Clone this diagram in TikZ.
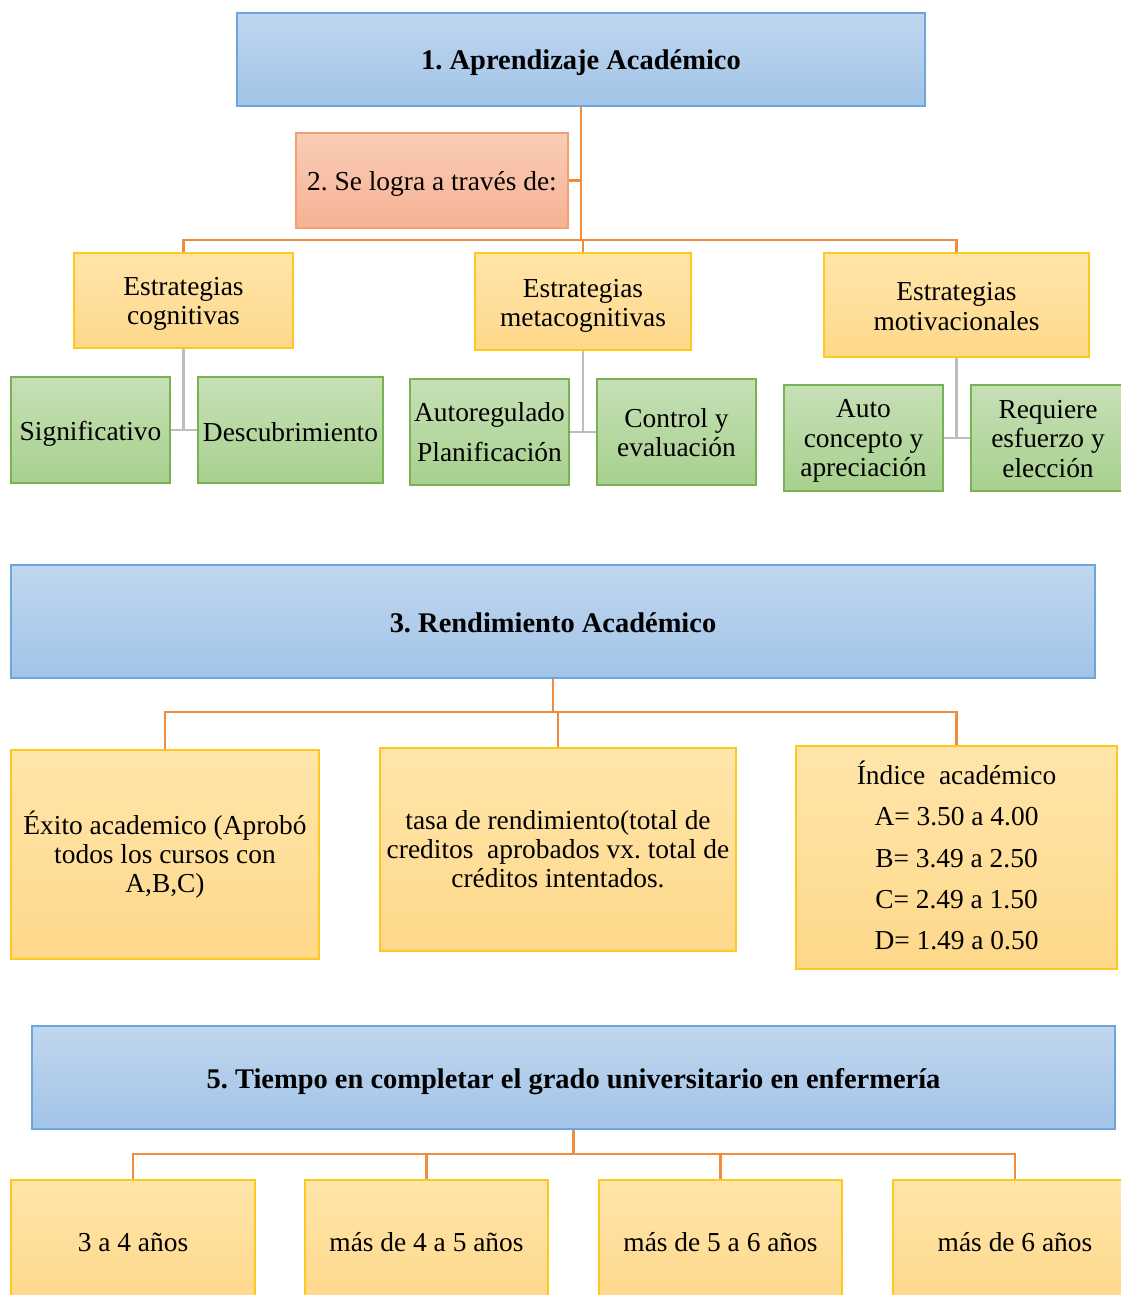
\documentclass[tikz,border=0pt]{standalone}
\usepackage{fontspec}
\setmainfont{Liberation Serif}
\frenchspacing
\begin{document}
\begin{tikzpicture}[x=0.02cm,y=-0.02cm,
  base/.style={draw, line width=0.9pt, inner sep=0pt},
  txt/.style={inner sep=0pt, align=center, font=\fontsize{15.6}{16.6}\selectfont},
  btxt/.style={inner sep=0pt, align=center, font=\fontsize{16.2}{17}\selectfont\bfseries},
  bluebox/.style={base, draw={rgb,255:red,110;green,165;blue,220}, top color={rgb,255:red,192;green,214;blue,238}, bottom color={rgb,255:red,162;green,196;blue,232}},
  salmonbox/.style={base, draw={rgb,255:red,244;green,160;blue,110}, top color={rgb,255:red,249;green,205;blue,182}, bottom color={rgb,255:red,247;green,178;blue,148}},
  yellowbox/.style={base, draw={rgb,255:red,255;green,200;blue,30}, top color={rgb,255:red,255;green,229;blue,170}, bottom color={rgb,255:red,254;green,216;blue,138}},
  greenbox/.style={base, draw={rgb,255:red,120;green,178;blue,82}, top color={rgb,255:red,198;green,224;blue,182}, bottom color={rgb,255:red,168;green,208;blue,142}},
  oline/.style={draw={rgb,255:red,240;green,140;blue,60}, line width=1.6pt},
  gline/.style={draw={rgb,255:red,190;green,190;blue,190}, line width=1.6pt}
]
\newcommand\mybox[9]{%
  \node[#1, minimum width={(#6-#4)*0.02cm}, minimum height={(#7-#5)*0.02cm}] (#3) at ({(#4+#6)/2},{(#5+#7)/2}) {};
  \node[#2] (#3-t) at ({(#4+#6)/2},{(#5+#7)/2+#8}) {#9};}
\useasboundingbox (0,0) rectangle (1121,1295);

% section 1
\mybox{bluebox}{btxt}{b1}{237}{13}{925}{106}{3}{1. Aprendizaje Académico}
\mybox{salmonbox}{txt}{b2}{296}{133}{568}{228}{3}{2. Se logra a través de:}
\mybox{yellowbox}{txt}{ec}{74}{253}{293}{348}{3}{Estrategias\\cognitivas}
\mybox{yellowbox}{txt}{em}{475}{253}{691}{350}{4}{Estrategias\\metacognitivas}
\mybox{yellowbox}{txt}{emo}{824}{253}{1089}{357}{1.5}{Estrategias\\motivacionales}
\mybox{greenbox}{txt}{sig}{11}{377}{170}{483}{4}{Significativo}
\mybox{greenbox}{txt}{desc}{198}{377}{383}{483}{2}{Descubrimiento}
\mybox{greenbox}{txt}{auto}{410}{379}{569}{485}{0}{Autoregulado\\[6.3pt]Planificación}
\mybox{greenbox}{txt}{ctrl}{597}{379}{756}{485}{1}{Control y\\evaluación}
\mybox{greenbox}{txt}{acon}{784}{385}{943}{491}{3}{Auto\\concepto y\\apreciación}
\mybox{greenbox}{txt}{req}{971}{385}{1125}{491}{1}{Requiere\\esfuerzo y\\elección}

\coordinate (j1) at (581,240);
\draw[oline] (b1.south) -- (j1);
\draw[oline] (b2.east) -- (b2.east -| b1.south);
\draw[oline] (ec.north) |- (j1) -| (emo.north);
\draw[oline] (em.north) -- (em.north |- j1);
\draw[gline] (ec.south) -- (ec.south |- sig.east);
\draw[gline] (sig.east) -- (desc.west);
\draw[gline] (em.south) -- (em.south |- auto.east);
\draw[gline] (auto.east) -- (ctrl.west);
\draw[gline] (emo.south) -- (emo.south |- acon.east);
\draw[gline] (acon.east) -- (req.west);

% section 3
\mybox{bluebox}{btxt}{b3}{11}{565}{1095}{678}{1}{3. Rendimiento Académico}
\mybox{yellowbox}{txt}{exito}{11}{750}{319}{959}{0}{Éxito academico (Aprobó\\todos los cursos con\\A,B,C)}
\mybox{yellowbox}{txt}{tasa}{380}{748}{736}{951}{0}{tasa de rendimiento(total de\\creditos\ \ aprobados vx. total de\\créditos intentados.}
\mybox{yellowbox}{txt}{indice}{796}{746}{1117}{969}{-2}{Índice\ \ académico\\[6.9pt]A= 3.50 a 4.00\\[6.9pt]B= 3.49 a 2.50\\[6.9pt]C= 2.49 a 1.50\\[6.9pt]D= 1.49 a 0.50}

\coordinate (j3) at (553,712);
\draw[oline] (b3.south) -- (j3);
\draw[oline] (exito.north) |- (j3) -| (indice.north);
\draw[oline] (tasa.north) -- (tasa.north |- j3);

% section 5
\mybox{bluebox}{btxt}{b5}{32}{1026}{1115}{1129}{4}{5. Tiempo en completar el grado universitario en enfermería}
\mybox{yellowbox}{txt}{t1}{11}{1180}{255}{1305}{0}{3 a 4 años}
\mybox{yellowbox}{txt}{t2}{305}{1180}{548}{1305}{0}{más de 4 a 5 años}
\mybox{yellowbox}{txt}{t3}{599}{1180}{842}{1305}{0}{más de 5 a 6 años}
\mybox{yellowbox}{txt}{t4}{893}{1180}{1137}{1305}{0}{más de 6 años}

\coordinate (j5) at (573.5,1154);
\draw[oline] (b5.south) -- (j5);
\draw[oline] (t1.north) |- (j5) -| (t4.north);
\draw[oline] (t2.north) -- (t2.north |- j5);
\draw[oline] (t3.north) -- (t3.north |- j5);
\end{tikzpicture}
\end{document}
